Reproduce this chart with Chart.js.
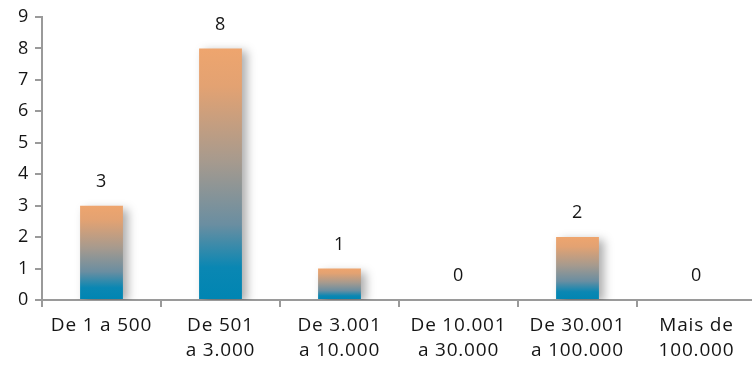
<!DOCTYPE html>
<html>
<head>
<meta charset="utf-8">
<script src="https://cdn.jsdelivr.net/npm/chart.js@4"></script>
<style>
  html, body { margin: 0; padding: 0; background: #fff; overflow: hidden; }
  #wrap { width: 752px; height: 365px; overflow: hidden; }
</style>
</head>
<body>
<div id="wrap"><canvas id="chart" width="756" height="365"></canvas></div>
<script>
const categories = [
    ['De 1 a 500'],
    ['De 501', 'a 3.000'],
    ['De 3.001', 'a 10.000'],
    ['De 10.001', 'a 30.000'],
    ['De 30.001', 'a 100.000'],
    ['Mais de', '100.000']
];
const values = [3, 8, 1, 0, 2, 0];
const yTicks = [0, 1, 2, 3, 4, 5, 6, 7, 8, 9];

const FONT = "'Open Sans', sans-serif";
const AXIS = '#9a9a9a';
const TEXT = '#151515';

function barGradient(context) {
    const chart = context.chart;
    if (!chart.chartArea) return '#0085b2';
    const y = chart.scales.y;
    const top = y.getPixelForValue(context.raw);
    const bottom = y.getPixelForValue(0);
    if (bottom - top < 1) return '#0085b2';
    const g = chart.ctx.createLinearGradient(0, top, 0, bottom);
    g.addColorStop(0, '#eea56e');
    g.addColorStop(0.15, '#e3a272');
    g.addColorStop(0.45, '#a69a8e');
    g.addColorStop(0.7, '#6a8ea1');
    g.addColorStop(0.87, '#0a87b3');
    g.addColorStop(1, '#0085b2');
    return g;
}

// the reference font is a little wider than Open Sans
const textSpacing = {
    id: 'textSpacing',
    beforeDraw(chart) {
        chart.ctx.letterSpacing = '0.8px';
    }
};

// soft grey shadow behind the bars
const barShadow = {
    id: 'barShadow',
    beforeDatasetsDraw(chart) {
        const ctx = chart.ctx;
        ctx.save();
        ctx.shadowColor = 'rgba(0,0,0,0.32)';
        ctx.shadowBlur = 9;
        ctx.shadowOffsetX = 5;
        ctx.shadowOffsetY = 3;
    },
    afterDatasetsDraw(chart) {
        chart.ctx.restore();
    }
};

// value above each bar
const valueLabels = {
    id: 'valueLabels',
    afterDatasetsDraw(chart) {
        const ctx = chart.ctx;
        const meta = chart.getDatasetMeta(0);
        ctx.save();
        ctx.font = '18px ' + FONT;
        ctx.fillStyle = TEXT;
        ctx.textAlign = 'center';
        ctx.textBaseline = 'middle';
        meta.data.forEach((bar, i) => {
            ctx.fillText(String(values[i]), bar.x, bar.y - 24);
        });
        ctx.restore();
    }
};

new Chart(document.getElementById('chart'), {
    type: 'bar',
    data: {
        labels: categories,
        datasets: [{
            data: values,
            backgroundColor: barGradient,
            borderWidth: 0,
            categoryPercentage: 1,
            barPercentage: 0.36
        }]
    },
    options: {
        responsive: false,
        animation: false,
        layout: { padding: { top: 17, right: 0, bottom: 0, left: 0 } },
        plugins: {
            legend: { display: false },
            tooltip: { enabled: false }
        },
        scales: {
            x: {
                grid: { display: true, drawOnChartArea: false, drawTicks: true, tickLength: 7, color: AXIS, lineWidth: 2, offset: true },
                border: { color: AXIS, width: 2 },
                ticks: {
                    color: TEXT,
                    font: { family: FONT, size: 19, lineHeight: 1.32 },
                    padding: 6,
                    maxRotation: 0,
                    autoSkip: false
                },
                afterFit(scale) { scale.height = 65; }
            },
            y: {
                min: 0,
                max: yTicks[yTicks.length - 1],
                afterBuildTicks(scale) { scale.ticks = yTicks.map(v => ({ value: v })); },
                grid: { display: true, drawOnChartArea: false, drawTicks: true, tickLength: 7, color: AXIS, lineWidth: 2 },
                border: { color: AXIS, width: 2 },
                ticks: {
                    color: TEXT,
                    font: { family: FONT, size: 18 },
                    padding: 6
                },
                afterFit(scale) { scale.width = 42; }
            }
        }
    },
    plugins: [textSpacing, barShadow, valueLabels]
});
</script>
</body>
</html>
